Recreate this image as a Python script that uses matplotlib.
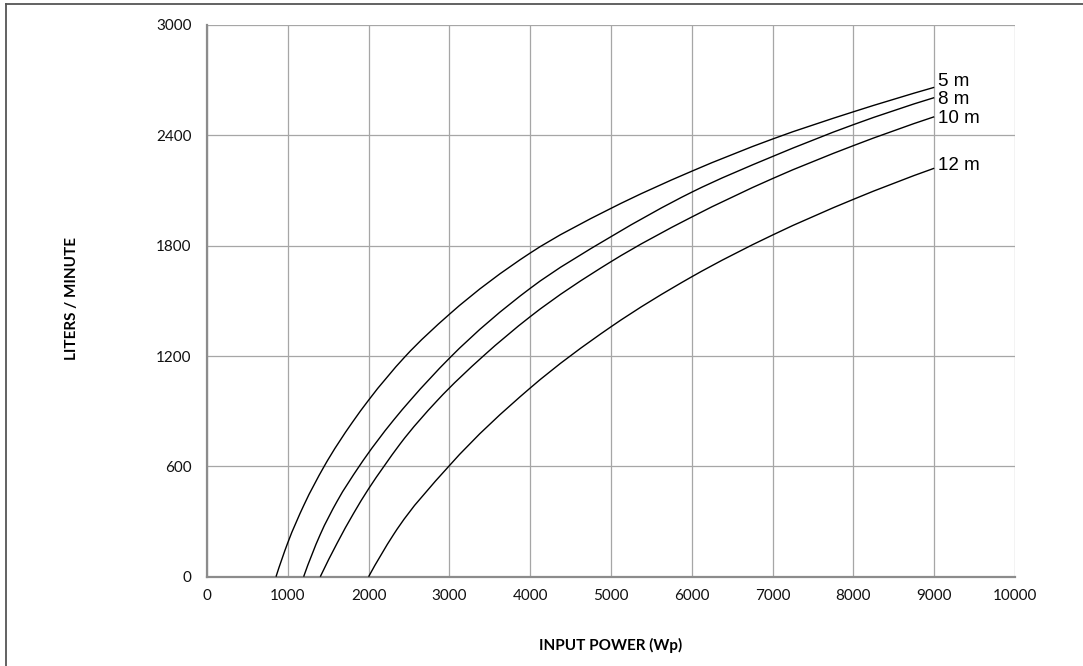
import matplotlib
matplotlib.use("Agg")
import matplotlib.pyplot as plt
from matplotlib.lines import Line2D
from matplotlib.path import Path
from matplotlib.patches import PathPatch

# ---- data ----
x_5m = [854, 1000, 1200, 1450, 1800, 2000, 2450, 3000, 4000, 5000, 6000, 7000, 8000, 9000]
y_5m = [0, 185, 390, 600, 840, 960, 1196, 1427, 1760, 2003, 2205, 2380, 2528, 2661]

x_8m = [1196, 1400, 1610, 1880, 2310, 2520, 3000, 4000, 5000, 6000, 7000, 8000, 9000]
y_8m = [0, 228, 410, 598, 852, 961, 1188, 1568, 1849, 2091, 2285, 2458, 2605]

x_10m = [1402, 1610, 1815, 2000, 2190, 2390, 2850, 3420, 4000, 5000, 6000, 7000, 8000, 9000]
y_10m = [0, 182, 345, 478, 600, 722, 958, 1200, 1414, 1713, 1956, 2165, 2344, 2501]

x_12m = [2000, 2310, 3000, 4000, 5000, 6000, 7000, 8000, 9000]
y_12m = [0, 230, 604, 1026, 1359, 1631, 1858, 2052, 2221]

series_labels = ["5 m", "8 m", "10 m", "12 m"]
x_ticks = [0, 1000, 2000, 3000, 4000, 5000, 6000, 7000, 8000, 9000, 10000]
y_ticks = [0, 600, 1200, 1800, 2400, 3000]
x_title = "INPUT POWER (Wp)"
y_title = "LITERS / MINUTE"


def smooth_path(xs, ys):
    """Smoothed line through the points (cubic Bezier segments with finite-difference tangents)."""
    n = len(xs)
    h = [xs[i + 1] - xs[i] for i in range(n - 1)]
    d = [(ys[i + 1] - ys[i]) / h[i] for i in range(n - 1)]
    m = [0.0] * n
    for i in range(1, n - 1):
        m[i] = (h[i] * d[i - 1] + h[i - 1] * d[i]) / (h[i - 1] + h[i])
    m[0] = ((2 * h[0] + h[1]) * d[0] - h[0] * d[1]) / (h[0] + h[1])
    m[-1] = ((2 * h[-1] + h[-2]) * d[-1] - h[-1] * d[-2]) / (h[-1] + h[-2])
    verts = [(xs[0], ys[0])]
    codes = [Path.MOVETO]
    for i in range(n - 1):
        c1 = (xs[i] + h[i] / 3, ys[i] + m[i] * h[i] / 3)
        c2 = (xs[i + 1] - h[i] / 3, ys[i + 1] - m[i + 1] * h[i] / 3)
        verts += [c1, c2, (xs[i + 1], ys[i + 1])]
        codes += [Path.CURVE4] * 3
    return Path(verts, codes)


# ---- figure ----
fig = plt.figure(figsize=(10.83, 6.66), dpi=100)
ax = fig.add_axes([207 / 1083, 1 - 576.7 / 666, 808 / 1083, 551.7 / 666])

ax.set_xlim(0, 10000)
ax.set_ylim(0, 3000)
ax.set_xticks(x_ticks)
ax.set_yticks(y_ticks)
ax.grid(True, color="#a6a6a6", linewidth=0.9)
ax.set_axisbelow(True)
for s in ["top", "right"]:
    ax.spines[s].set_visible(False)
for s in ["left", "bottom"]:
    ax.spines[s].set_color("#8c8c8c")
    ax.spines[s].set_linewidth(1.6)
ax.tick_params(length=0)
ax.tick_params(axis="y", pad=11)
ax.tick_params(axis="x", pad=9)
for lab in ax.get_xticklabels() + ax.get_yticklabels():
    lab.set_fontfamily("Lato")
    lab.set_fontsize(11)
    lab.set_color("#111111")

series = [(x_5m, y_5m), (x_8m, y_8m), (x_10m, y_10m), (x_12m, y_12m)]
offsets = [30, -8, -10, 15]
for (xs, ys), lbl, off in zip(series, series_labels, offsets):
    ax.add_patch(PathPatch(smooth_path(xs, ys), facecolor="none",
                           edgecolor="black", linewidth=1.0, zorder=3))
    ax.text(xs[-1] + 45, ys[-1] + off, lbl, fontsize=13.5, family="Liberation Sans",
            va="center", ha="left", color="black")

fig.text(611 / 1083, 1 - 645 / 666, x_title, ha="center", va="center",
         fontsize=11, fontweight="bold", family="Lato")
fig.text(72 / 1083, 1 - 298 / 666, y_title, ha="center", va="center",
         rotation=90, fontsize=11, fontweight="bold", family="Lato")

# outer frame (left and top edges visible)
fig.add_artist(Line2D([5.5 / 1083, 5.5 / 1083], [0, 1 - 3.5 / 666],
                      transform=fig.transFigure, color="#555555", linewidth=1.3))
fig.add_artist(Line2D([5.5 / 1083, 1], [1 - 3.5 / 666, 1 - 3.5 / 666],
                      transform=fig.transFigure, color="#555555", linewidth=1.3))

fig.savefig("out.png", dpi=100)
